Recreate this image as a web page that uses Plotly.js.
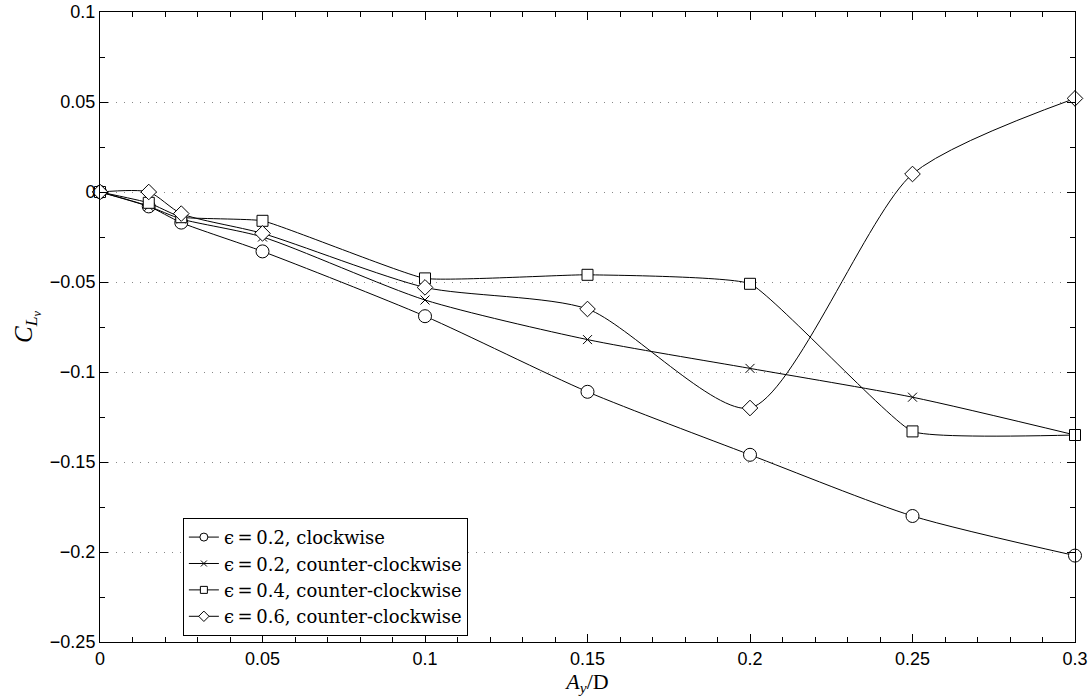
<!DOCTYPE html>
<html><head><meta charset="utf-8">
<script src="https://cdn.plot.ly/plotly-3.0.1.min.js"></script>
<style>body{margin:0;background:#fff}#c{width:1089px;height:698px}</style>
</head><body><div id="c"></div>
<script>
const xVals = [0, 0.015, 0.025, 0.05, 0.1, 0.15, 0.2, 0.25, 0.3];
const cw02 = [0, -0.008, -0.017, -0.033, -0.069, -0.111, -0.146, -0.180, -0.202];
const ccw02 = [0, -0.008, -0.015, -0.025, -0.060, -0.082, -0.098, -0.114, -0.135];
const ccw04 = [0, -0.006, -0.014, -0.016, -0.048, -0.046, -0.051, -0.133, -0.135];
const ccw06 = [0, 0.000, -0.012, -0.023, -0.053, -0.065, -0.120, 0.010, 0.052];
const names = ['\u03f5\u2009=\u20090.2, clockwise', '\u03f5\u2009=\u20090.2, counter-clockwise', '\u03f5\u2009=\u20090.4, counter-clockwise', '\u03f5\u2009=\u20090.6, counter-clockwise'];
const series = [cw02, ccw02, ccw04, ccw06];
const symbols = ['circle', 'x-thin-open', 'square', 'diamond'];
const fills = ['#fff', '#000', '#fff', '#fff'];
const sizes = [13, 9, 11, 12];
const legSizes = [8, 6, 7, 8];
const smooth = [0.7, 0.7, 0.35, 0.7];

const traces = [];
series.forEach((s, i) => {
  traces.push({
    x: xVals, y: s, type: 'scatter', mode: 'lines+markers', showlegend: false,
    line: {color: '#000', width: 1, shape: 'spline', smoothing: smooth[i]},
    marker: {symbol: symbols[i], size: sizes[i], color: fills[i], line: {color: '#000', width: 1}},
    cliponaxis: false
  });
});
series.forEach((s, i) => {
  traces.push({
    x: [null], y: [null], type: 'scatter', mode: 'lines+markers', name: names[i],
    line: {color: '#000', width: 1},
    marker: {symbol: symbols[i], size: legSizes[i], color: fills[i], line: {color: '#000', width: 1}}
  });
});

const axisCommon = {
  showline: true, linecolor: '#000', linewidth: 1, mirror: 'ticks',
  ticks: 'inside', ticklen: 8, tickcolor: '#000', tickwidth: 1,
  zeroline: false,
  tickfont: {family: 'Liberation Sans, Arial, sans-serif', size: 18, color: '#000'}
};

const layout = {
  width: 1089, height: 698,
  margin: {l: 100, r: 14, t: 12, b: 56},
  paper_bgcolor: '#fff', plot_bgcolor: '#fff',
  showlegend: true,
  xaxis: Object.assign({}, axisCommon, {
    range: [0, 0.3], dtick: 0.05, tick0: 0, showgrid: false,
    minor: {ticks: 'inside', dtick: 0.01, ticklen: 5, tickcolor: '#000', showgrid: false},
    title: {text: '<i>A<sub>y</sub></i>/D', font: {family: 'Liberation Serif, serif', size: 22, color: '#000'}, standoff: 0}
  }),
  yaxis: Object.assign({}, axisCommon, {
    range: [-0.25, 0.1], dtick: 0.05, tick0: 0,
    showgrid: true, gridcolor: '#888', griddash: '1px,7px', gridwidth: 1,
    minor: {ticks: 'inside', dtick: 0.025, ticklen: 5, tickcolor: '#000', showgrid: false},
    title: {text: '<i>C<sub>L<sub>v</sub></sub></i>', font: {family: 'Liberation Serif, serif', size: 25, color: '#000'}, standoff: 10}
  }),
  legend: {
    x: 0.085, y: 0.197, xanchor: 'left', yanchor: 'top',
    bgcolor: '#fff', bordercolor: '#000', borderwidth: 1,
    font: {family: 'DejaVu Serif, Liberation Serif, serif', size: 18, color: '#000'},
    tracegroupgap: 0
  }
};
Plotly.newPlot('c', traces, layout, {staticPlot: true});
</script></body></html>
